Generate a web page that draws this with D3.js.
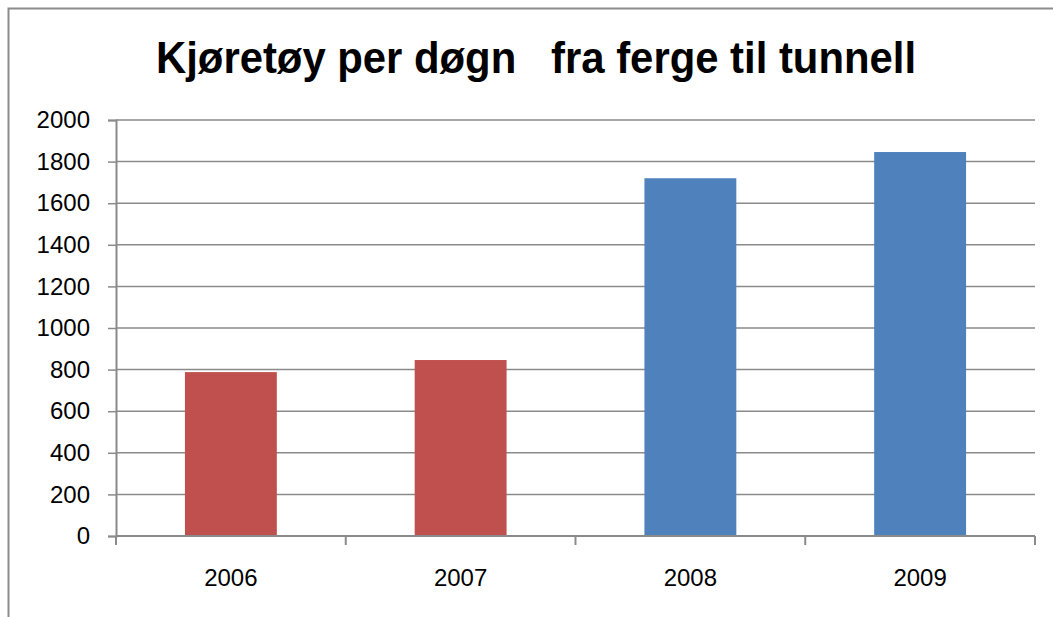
<!DOCTYPE html>
<html>
<head>
<meta charset="utf-8">
<script src="https://cdn.jsdelivr.net/npm/d3@7"></script>
<style>
  body { margin: 0; background: #fff; }
  text { font-family: "Liberation Sans", Arial, sans-serif; fill: #000; }
</style>
</head>
<body>
<svg id="chart" width="1053" height="617"></svg>
<script>
// data
const years = ["2006", "2007", "2008", "2009"];
const vehicles = [788, 846, 1720, 1846];
const barColors = ["#c0504d", "#c0504d", "#4f81bd", "#4f81bd"];
const yTicks = [0, 200, 400, 600, 800, 1000, 1200, 1400, 1600, 1800, 2000];
const title = "Kjøretøy per døgn\u00a0\u00a0\u00a0fra ferge til tunnell";

const W = 1053, H = 617;
const margin = { top: 120, left: 116, bottom: 81, right: 18 };

const svg = d3.select("#chart");

// outer chart border (right/bottom cut off in the picture)
svg.append("path")
  .attr("d", `M8.5,${H} V8.5 H${W}`)
  .attr("fill", "none")
  .attr("stroke", "#8c8c8c")
  .attr("stroke-width", 2);

const x = d3.scaleBand()
  .domain(years)
  .range([margin.left, W - margin.right])
  .padding(0);

const y = d3.scaleLinear()
  .domain([0, 2000])
  .range([H - margin.bottom, margin.top]);

// gridlines
svg.append("g")
  .selectAll("line")
  .data(yTicks.filter(d => d > 0))
  .join("line")
  .attr("x1", margin.left)
  .attr("x2", W - margin.right)
  .attr("y1", d => y(d))
  .attr("y2", d => y(d))
  .attr("stroke", "#8a8a8a")
  .attr("stroke-width", 1.5);

// bars, 40% of the category width
const barW = x.bandwidth() * 0.4;
svg.append("g")
  .selectAll("rect")
  .data(years)
  .join("rect")
  .attr("x", (d) => x(d) + (x.bandwidth() - barW) / 2)
  .attr("y", (d, i) => y(vehicles[i]))
  .attr("width", barW)
  .attr("height", (d, i) => y(0) - y(vehicles[i]))
  .attr("fill", (d, i) => barColors[i]);

// y axis
const yAxis = d3.axisLeft(y)
  .tickValues(yTicks)
  .tickSize(8)
  .tickPadding(18)
  .tickFormat(d3.format("d"));
const gy = svg.append("g")
  .attr("transform", `translate(${margin.left},0)`)
  .call(yAxis);
gy.select(".domain").attr("stroke", "#8a8a8a").attr("stroke-width", 2);
gy.selectAll(".tick line").attr("stroke", "#8a8a8a").attr("stroke-width", 1.5);
gy.selectAll("text")
  .style("font-size", "24px")
  .style("font-family", "'Liberation Sans', Arial, sans-serif")
  .attr("fill", "#000");

// x axis: ticks on category boundaries
const gx = svg.append("g")
  .attr("transform", `translate(0,${y(0)})`);
gx.append("line")
  .attr("x1", margin.left)
  .attr("x2", W - margin.right)
  .attr("stroke", "#8a8a8a")
  .attr("stroke-width", 2);
const bounds = years.map(d => x(d)).concat([x(years[years.length - 1]) + x.bandwidth()]);
gx.selectAll("line.tk")
  .data(bounds)
  .join("line")
  .attr("class", "tk")
  .attr("x1", d => d)
  .attr("x2", d => d)
  .attr("y1", 0)
  .attr("y2", 9)
  .attr("stroke", "#8a8a8a")
  .attr("stroke-width", 2);
gx.selectAll("text")
  .data(years)
  .join("text")
  .attr("x", d => x(d) + x.bandwidth() / 2)
  .attr("y", 50)
  .attr("text-anchor", "middle")
  .style("font-size", "24px")
  .text(d => d);

// title
svg.append("text")
  .attr("x", 536)
  .attr("y", 73)
  .attr("text-anchor", "middle")
  .attr("textLength", 760)
  .attr("lengthAdjust", "spacingAndGlyphs")
  .style("font-size", "44px")
  .style("font-weight", "bold")
  .text(title);
</script>
</body>
</html>
